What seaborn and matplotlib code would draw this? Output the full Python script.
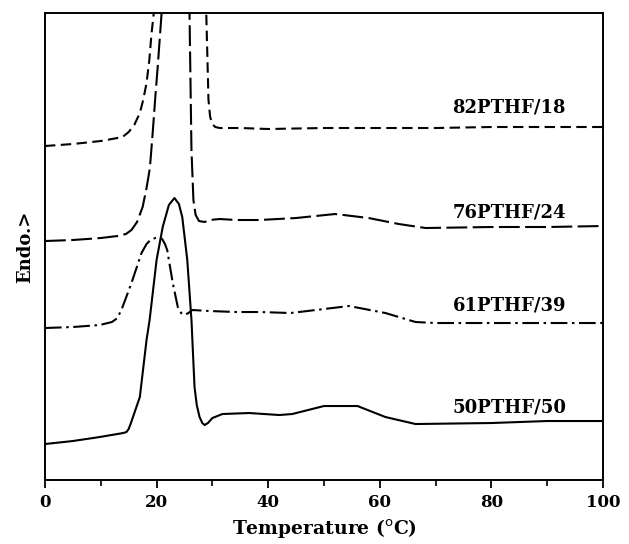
import numpy as np
import pandas as pd
import matplotlib
matplotlib.use("Agg")
import matplotlib.pyplot as plt
import seaborn as sns
from matplotlib.ticker import MultipleLocator

# ---- data (temperature in degC, heat flow in arbitrary units, offset per curve) ----
t_82 = [0, 5, 10, 12, 13.9, 15, 16, 17, 17.6, 18.2, 18.7, 19.1, 19.5, 20.5, 22, 26, 28.3, 28.9, 29.3, 29.6, 30.0, 30.5, 31.3, 35, 40, 50, 60, 70, 80, 90, 100]
v_82 = [334, 336, 339, 341, 343, 348, 355, 367, 380, 397, 420, 447, 467, 530, 620, 620, 530, 467, 380, 363, 356, 353, 352, 352, 351, 352, 352, 352, 353, 353, 353]

t_76 = [0, 5, 10, 13, 14.5, 15.5, 16.5, 17.5, 18.2, 18.8, 19.3, 19.8, 20.2, 20.9, 22, 25, 25.9, 26.25, 26.6, 27.0, 27.6, 28.6, 29.5, 31.3, 34.3, 38.4, 45, 52, 58, 63.4, 68.2, 80, 90, 100]
v_76 = [239, 240, 242, 244, 246, 250, 258, 273, 292, 312, 347, 385, 413, 467, 540, 540, 467, 330, 280, 265, 259, 258, 260, 261, 260, 260, 262, 266, 262, 256, 252, 253, 253, 254]

t_61 = [0, 5, 9.8, 12, 13.0, 13.9, 15.5, 17.3, 18.2, 18.9, 20.2, 21.0, 21.5, 21.9, 22.9, 23.8, 24.4, 25.0, 25.7, 26.4, 29.5, 34.3, 38.4, 44, 50, 54.5, 61, 66.4, 70, 80, 90, 100]
v_61 = [152, 153, 155, 158, 162, 173, 197, 227, 236, 240, 243, 241, 236, 230, 197, 173, 167, 165, 167, 170, 169, 168, 168, 167, 171, 174, 167, 158, 157, 157, 157, 157]

t_50 = [0, 5, 9.8, 14.0, 14.6, 15.0, 15.4, 16.2, 17.0, 18.2, 18.75, 20.0, 21.1, 22.2, 23.2, 24.0, 24.6, 25.5, 26.25, 26.8, 27.2, 27.7, 28.2, 28.6, 29.2, 30.0, 31.8, 36.6, 42, 44.3, 50, 56, 61, 66.4, 80, 90, 100]
v_50 = [36, 39, 43, 47, 48, 51, 57, 70, 83, 140, 160, 220, 253, 275, 282, 276, 263, 220, 160, 93, 75, 63, 57, 55, 57, 62, 66, 67, 65, 66, 74, 74, 63, 56, 57, 59, 59]

labels = ["82PTHF/18", "76PTHF/24", "61PTHF/39", "50PTHF/50"]
label_y = [373, 268, 175, 73]
label_x = 83.2

x_ticks = [0, 20, 40, 60, 80, 100]

sns.set_theme(style="ticks")
plt.rcParams["font.family"] = ["DejaVu Serif", "DejaVu Sans"]
plt.rcParams["mathtext.fontset"] = "dejavusans"
plt.rcParams["text.color"] = "black"
plt.rcParams["axes.labelcolor"] = "black"
plt.rcParams["xtick.color"] = "black"

fig = plt.figure(figsize=(6.29, 5.44), dpi=100)
ax = fig.add_axes([0.0715, 0.1176, 0.8872, 0.8585])

series = [
    (t_82, v_82, (0, (5.0, 2.6))),
    (t_76, v_76, (0, (10.0, 2.6))),
    (t_61, v_61, (0, (8.0, 2.2, 1.2, 2.2))),
    (t_50, v_50, "-"),
]
for t, v, ls in series:
    df = pd.DataFrame({"T": t, "v": v})
    sns.lineplot(data=df, x="T", y="v", ax=ax, color="black", linewidth=1.5,
                 linestyle=ls, sort=False, estimator=None)

for lab, ly in zip(labels, label_y):
    ax.text(label_x, ly, lab, ha="center", va="center", fontsize=13,
            fontweight="bold", color="black")

ax.set_xlim(0, 100)
ax.set_ylim(0, 467)
ax.set_xticks(x_ticks)
ax.set_xticklabels([str(x) for x in x_ticks])
ax.xaxis.set_minor_locator(MultipleLocator(10))
ax.set_yticks([])
ax.tick_params(axis="x", which="major", direction="out", length=6, width=1.3,
               labelsize=12, pad=4, colors="black")
ax.tick_params(axis="x", which="minor", direction="out", length=4, width=1.2, colors="black")
for lab in ax.get_xticklabels():
    lab.set_fontweight("bold")
for s in ax.spines.values():
    s.set_linewidth(1.4)
    s.set_color("black")

ax.set_xlabel(r"Temperature ($^{\mathrm{o}}$C)", fontsize=13.5, fontweight="bold",
              labelpad=5, color="black")
ax.set_ylabel("Endo.>", fontsize=13, fontweight="bold", labelpad=8, color="black")

fig.savefig("out.png", dpi=100, facecolor="white")
